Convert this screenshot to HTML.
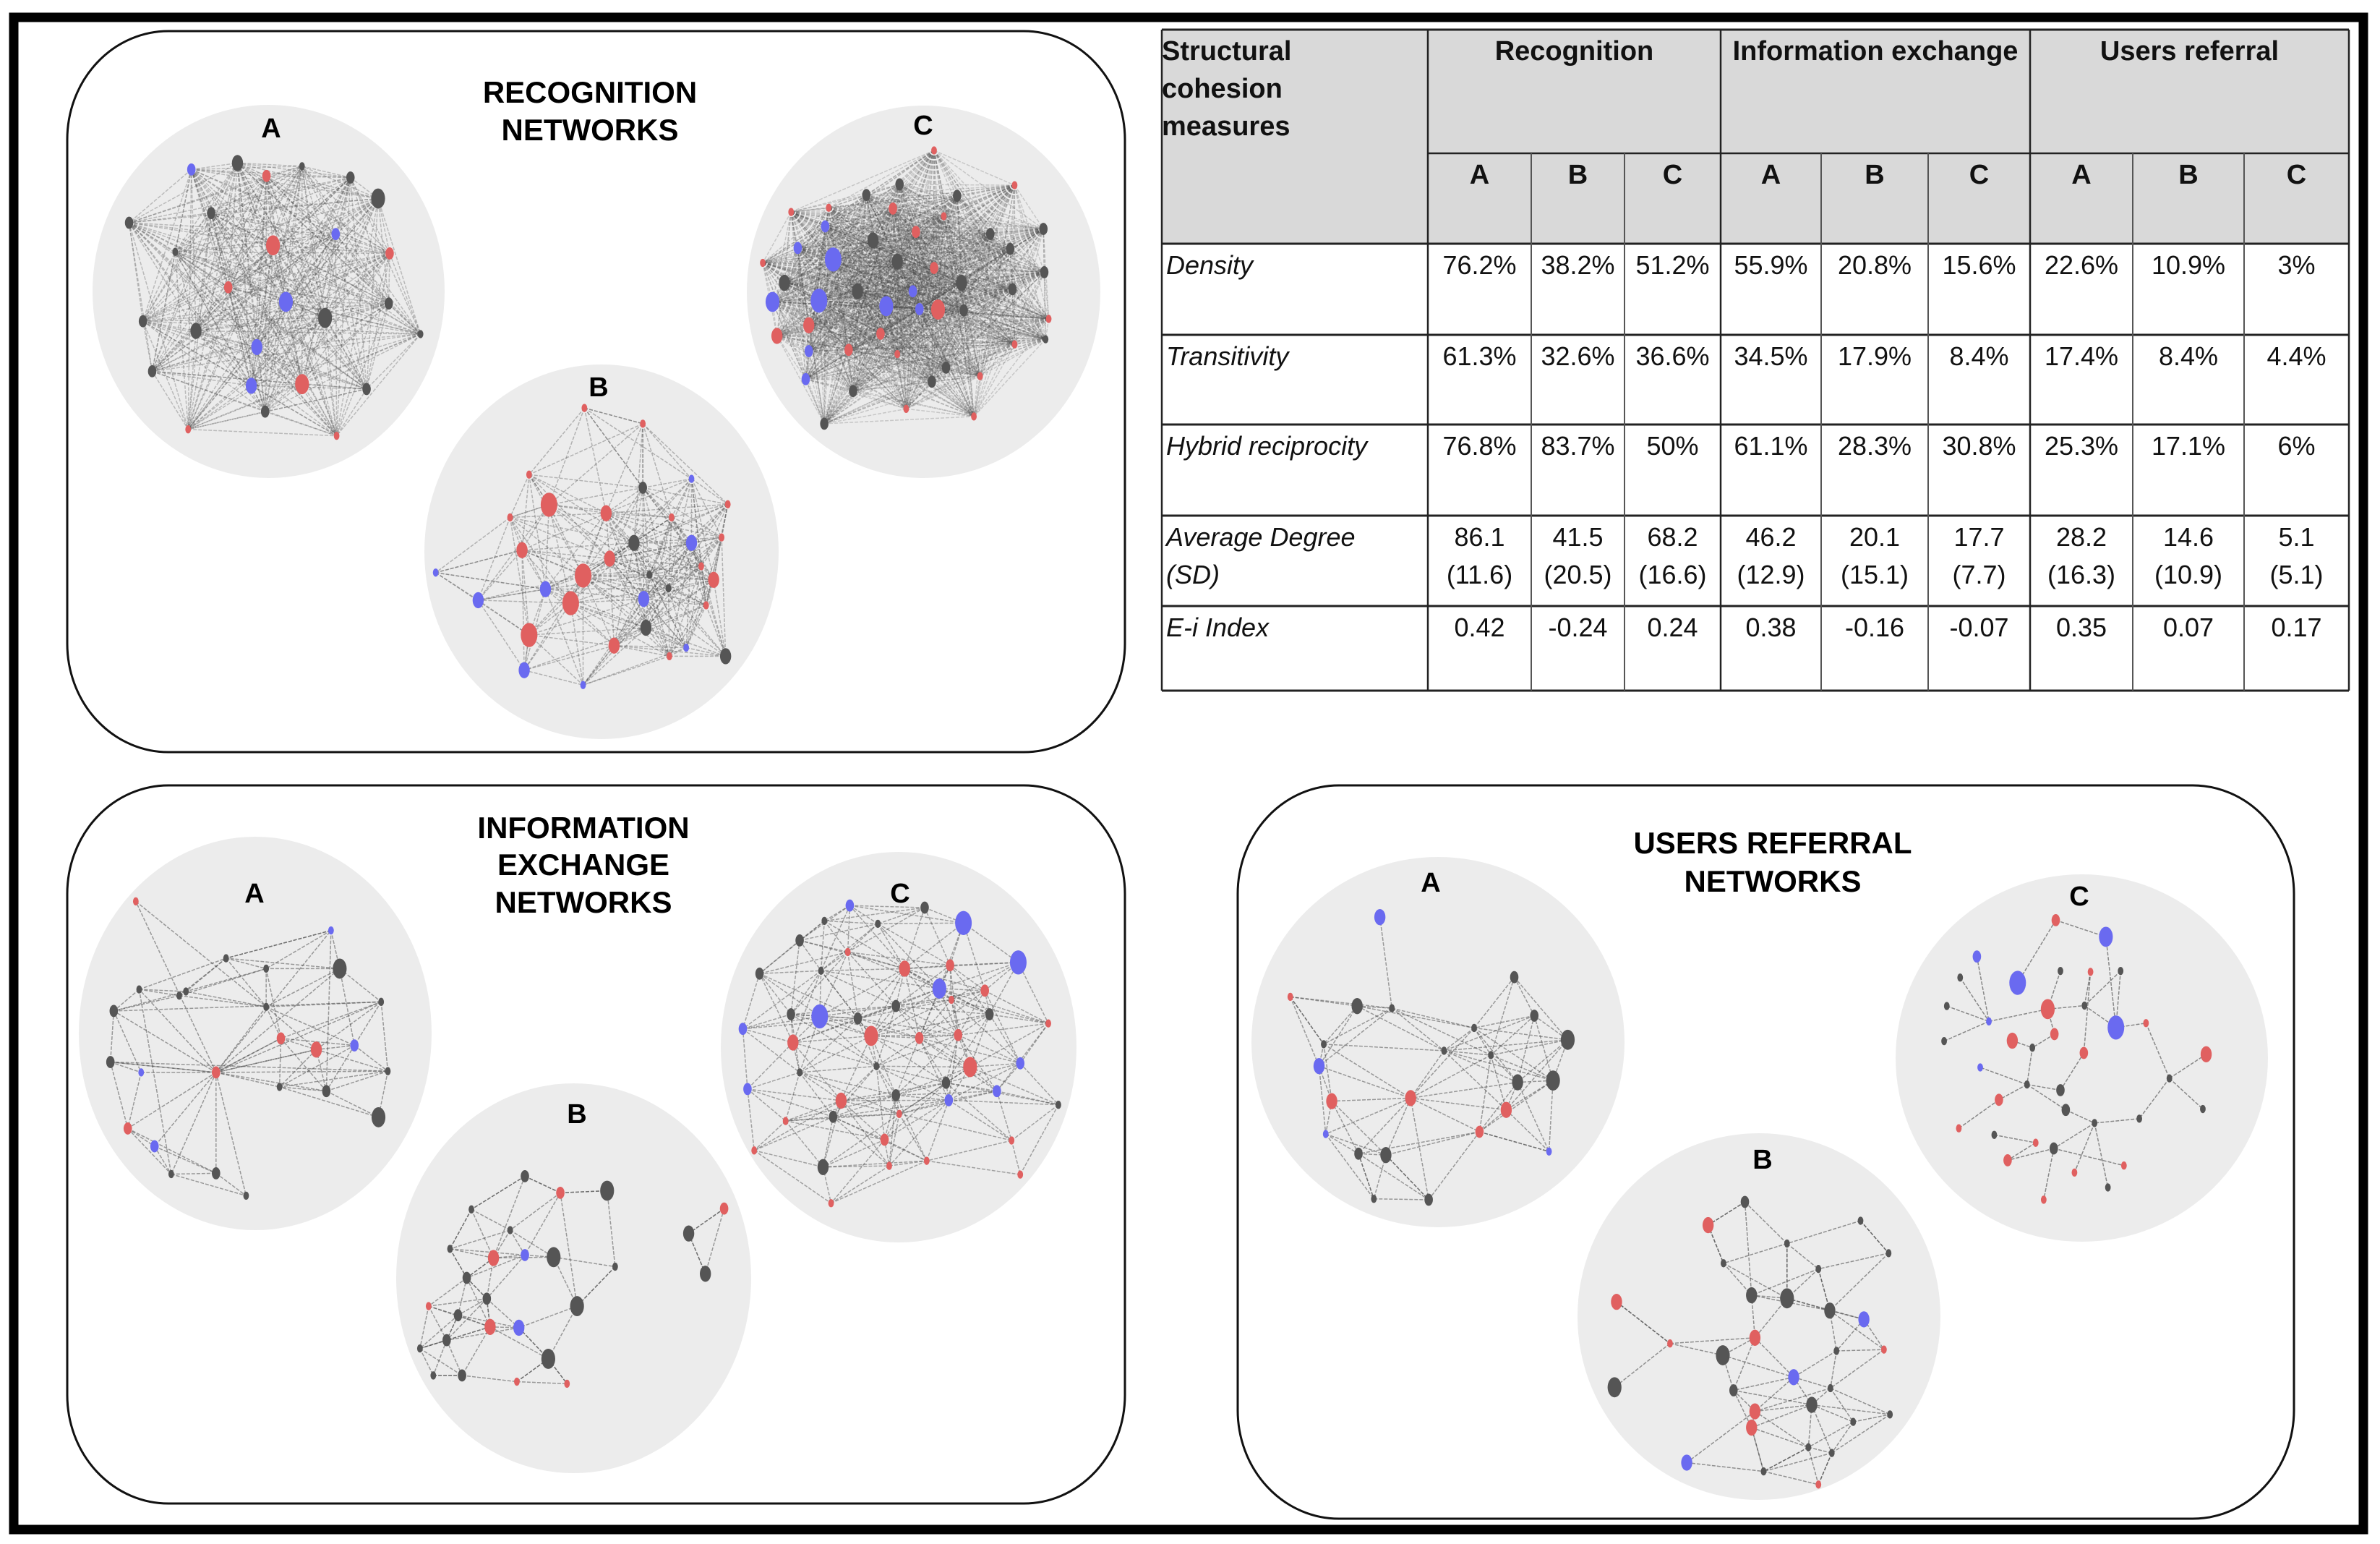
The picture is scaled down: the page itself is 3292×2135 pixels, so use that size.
<!DOCTYPE html>
<html><head><meta charset="utf-8">
<style>
html,body{margin:0;padding:0;background:#fff;}
#root{position:relative;width:3292px;height:2135px;overflow:hidden;font-family:"Liberation Sans",Arial,sans-serif;}
svg{position:absolute;left:0;top:0;}
#grid{z-index:5;pointer-events:none;}
.cell{position:absolute;box-sizing:border-box;font-size:36px;line-height:52px;color:#111;padding-top:4px;}
.hd{background:#d9d9d9;font-weight:bold;font-size:38px;}
.it{font-style:italic;padding-left:6px;}
.c{text-align:center;}
</style></head>
<body>
<div id="root">
<svg id="svg" width="3292" height="2135">
  <rect x="19" y="24" width="3250" height="2091" fill="none" stroke="#000" stroke-width="13"/>
  <rect x="93" y="43" width="1463" height="997" rx="140" ry="150" fill="none" stroke="#111" stroke-width="3"/>
  <rect x="93" y="1086" width="1463" height="993" rx="140" ry="150" fill="none" stroke="#111" stroke-width="3"/>
  <rect x="1712" y="1086" width="1461" height="1014" rx="140" ry="150" fill="none" stroke="#111" stroke-width="3"/>
  <g font-family="Liberation Sans, Arial, sans-serif" font-weight="bold" font-size="42" text-anchor="middle" fill="#000">
    <text x="816" y="142">RECOGNITION</text>
    <text x="816" y="194">NETWORKS</text>
    <text x="807" y="1159">INFORMATION</text>
    <text x="807" y="1210">EXCHANGE</text>
    <text x="807" y="1262">NETWORKS</text>
    <text x="2452" y="1180">USERS REFERRAL</text>
    <text x="2452" y="1233">NETWORKS</text>
  </g>
  <g id="nets"></g>
</svg>
<div id="table"></div>
<svg id="grid" width="3292" height="2135"></svg>
</div>
<script>
// frames: zoom-reference layout coordinate systems
const frames = {
  z2:{ox:0,oy:0,sx:0.6378,sy:0.4464},
  z3:{ox:580,oy:130,sx:0.6122,sy:0.5867},
  z4:{ox:100,oy:1150,sx:0.9247,sy:0.574},
  z5:{ox:1720,oy:1150,sx:0.9247,sy:0.6059}
};
const colors = {r:'#e06060',b:'#6a6af0',g:'#555555'};

// node data [x, y, size, group]
const recA = [[415,525,2,'b'],[515,505,3,'g'],[578,545,2,'r'],[760,550,2,'g'],[820,615,4,'g'],[458,660,2,'g'],[280,690,2,'g'],[728,725,2,'b'],[592,760,4,'r'],[845,785,2,'r'],[495,890,2,'r'],[620,935,4,'b'],[843,940,2,'g'],[705,985,4,'g'],[310,995,2,'g'],[425,1025,3,'g'],[912,1035,1,'g'],[557,1075,3,'b'],[330,1150,2,'g'],[545,1195,3,'b'],[655,1190,4,'r'],[795,1205,2,'g'],[575,1275,2,'g'],[408,1330,1,'r'],[730,1350,1,'r'],[380,780,1,'g'],[655,515,1,'g']];
const recB = [[373,740,1,'r'],[505,777,1,'r'],[248,897,1,'r'],[615,907,1,'b'],[505,928,2,'g'],[293,968,5,'r'],[422,988,3,'r'],[697,967,1,'r'],[205,998,1,'r'],[570,998,1,'r'],[485,1058,3,'g'],[615,1058,3,'b'],[683,1045,1,'r'],[232,1075,3,'r'],[430,1095,3,'r'],[37,1128,1,'b'],[370,1135,5,'r'],[520,1133,1,'g'],[665,1145,3,'r'],[637,1113,1,'r'],[285,1167,3,'b'],[563,1165,1,'g'],[133,1193,3,'b'],[342,1200,5,'r'],[507,1190,3,'b'],[648,1205,1,'r'],[512,1258,3,'g'],[248,1275,5,'r'],[440,1300,3,'r'],[565,1325,1,'r'],[603,1305,1,'b'],[692,1325,3,'g'],[237,1358,3,'b'],[370,1393,1,'b']];
const recC = [[1163,133,1,'r'],[1345,215,1,'r'],[1085,213,2,'g'],[1010,238,2,'g'],[1215,240,2,'g'],[840,278,1,'r'],[925,268,1,'r'],[1070,270,2,'r'],[1185,288,1,'r'],[1410,318,2,'g'],[917,312,2,'b'],[1122,325,2,'r'],[1025,345,3,'g'],[1290,330,2,'g'],[855,363,2,'b'],[935,390,5,'b'],[1080,395,3,'g'],[1335,365,2,'g'],[776,398,1,'r'],[1163,410,2,'r'],[1412,420,2,'g'],[825,445,3,'g'],[990,465,3,'g'],[1115,465,2,'b'],[1225,445,3,'g'],[1340,460,2,'g'],[798,490,4,'b'],[903,487,5,'b'],[1055,500,4,'b'],[1130,507,2,'b'],[1172,508,4,'r'],[1230,510,2,'g'],[1422,530,1,'r'],[880,545,3,'r'],[808,570,3,'r'],[1042,565,2,'r'],[1415,578,1,'g'],[880,606,2,'b'],[970,603,2,'r'],[1080,613,1,'r'],[1345,590,1,'r'],[1190,645,2,'g'],[873,672,2,'b'],[1267,665,1,'r'],[1158,678,2,'g'],[980,700,2,'g'],[1100,742,1,'r'],[915,777,2,'g'],[1253,760,1,'r']];
const infoA = [[95,168,1,'r'],[387,238,1,'b'],[400,330,4,'g'],[100,380,1,'g'],[160,395,1,'g'],[230,305,1,'g'],[290,330,1,'g'],[462,410,1,'g'],[62,432,2,'g'],[290,422,1,'g'],[312,498,2,'r'],[365,525,3,'r'],[422,515,2,'b'],[57,555,2,'g'],[103,580,1,'b'],[215,580,2,'r'],[472,577,1,'g'],[380,625,2,'g'],[458,688,4,'g'],[83,715,2,'r'],[123,758,2,'b'],[148,825,1,'g'],[215,823,2,'g'],[260,877,1,'g'],[310,615,1,'g'],[170,385,1,'g']];
const infoB = [[677,830,2,'g'],[730,870,2,'r'],[800,865,4,'g'],[597,910,1,'g'],[655,960,1,'g'],[565,1005,1,'g'],[630,1027,3,'r'],[677,1020,2,'b'],[720,1025,4,'g'],[812,1048,1,'g'],[590,1075,2,'g'],[620,1125,2,'g'],[533,1143,1,'r'],[755,1143,4,'g'],[577,1165,2,'g'],[625,1193,3,'r'],[668,1195,3,'b'],[520,1245,1,'g'],[560,1225,2,'g'],[712,1270,4,'g'],[583,1310,2,'g'],[540,1310,1,'g'],[665,1325,1,'r'],[740,1330,1,'r'],[975,908,2,'r'],[922,968,3,'g'],[947,1065,3,'g']];
const infoC = [[1163,178,2,'b'],[1275,183,2,'g'],[1333,220,5,'b'],[1125,215,1,'g'],[1205,222,1,'g'],[1088,262,2,'g'],[1415,315,5,'b'],[1245,330,3,'r'],[1313,322,2,'r'],[1160,290,1,'r'],[1028,342,2,'g'],[1120,335,1,'g'],[1297,378,4,'b'],[1365,383,2,'r'],[1232,420,2,'g'],[1118,445,5,'b'],[1075,440,2,'g'],[1175,450,2,'g'],[1315,405,1,'r'],[1372,440,2,'g'],[1003,475,2,'b'],[1460,462,1,'r'],[1078,508,3,'r'],[1195,492,4,'r'],[1267,497,2,'r'],[1325,490,2,'r'],[1203,565,1,'g'],[1343,567,4,'r'],[1418,558,2,'b'],[1088,580,1,'g'],[1010,620,2,'b'],[1307,605,2,'g'],[1383,625,2,'b'],[1150,648,3,'r'],[1232,635,2,'g'],[1311,647,2,'b'],[1475,658,1,'g'],[1138,687,2,'g'],[1067,697,1,'r'],[1237,680,1,'r'],[1215,742,2,'r'],[1405,744,1,'r'],[1020,768,1,'r'],[1123,808,3,'g'],[1222,805,1,'r'],[1278,793,1,'r'],[1418,826,1,'r'],[1135,895,1,'r']];
const usersA = [[204,195,3,'b'],[405,332,2,'g'],[70,377,1,'r'],[170,398,3,'g'],[222,403,1,'g'],[435,420,2,'g'],[485,475,4,'g'],[345,448,1,'g'],[120,485,1,'g'],[113,535,3,'b'],[300,500,1,'g'],[370,510,1,'g'],[410,572,3,'g'],[463,568,4,'g'],[132,615,3,'r'],[250,608,3,'r'],[393,635,3,'r'],[123,690,1,'b'],[353,685,2,'r'],[172,735,2,'g'],[213,738,3,'g'],[457,730,1,'b'],[195,838,1,'g'],[277,840,2,'g']];
const usersB = [[750,845,2,'g'],[695,898,3,'r'],[923,888,1,'g'],[965,962,1,'g'],[813,940,1,'g'],[718,985,1,'g'],[860,998,1,'g'],[760,1058,3,'g'],[813,1065,4,'g'],[877,1093,3,'g'],[928,1113,3,'b'],[558,1073,3,'r'],[638,1168,1,'r'],[765,1155,3,'r'],[717,1195,4,'g'],[887,1185,1,'g'],[958,1182,1,'r'],[823,1245,3,'b'],[555,1268,4,'g'],[733,1275,2,'g'],[878,1270,1,'g'],[765,1323,3,'r'],[850,1308,3,'g'],[760,1360,3,'r'],[912,1347,1,'g'],[967,1330,1,'g'],[845,1405,1,'g'],[880,1418,1,'g'],[663,1440,3,'b'],[778,1460,1,'g'],[860,1490,1,'r']];
const usersC = [[1215,202,2,'r'],[1290,240,4,'b'],[1097,285,2,'b'],[1158,345,5,'b'],[1072,333,1,'g'],[1222,318,1,'g'],[1267,320,1,'r'],[1312,318,1,'g'],[1203,405,4,'r'],[1052,398,1,'g'],[1115,433,1,'b'],[1258,397,1,'g'],[1305,447,5,'b'],[1350,437,1,'r'],[1150,477,3,'r'],[1213,462,2,'r'],[1048,478,1,'g'],[1180,493,1,'g'],[1257,505,2,'r'],[1440,508,3,'r'],[1102,538,1,'b'],[1385,563,1,'g'],[1172,577,1,'g'],[1222,590,2,'g'],[1130,612,2,'r'],[1230,635,2,'g'],[1340,655,1,'g'],[1435,633,1,'g'],[1273,665,1,'g'],[1070,677,1,'r'],[1123,692,1,'g'],[1185,710,1,'r'],[1212,723,2,'g'],[1143,750,2,'r'],[1243,778,1,'r'],[1317,762,1,'r'],[1293,812,1,'g'],[1197,840,1,'r']];

// explicit extra edges
const infoAEdges = [[15,0],[15,1],[15,2],[15,3],[15,8],[15,13],[15,19],[15,20],[15,21],[15,22],[15,23],[15,10],[15,11],[15,16],[15,7],[0,9],[1,5],[1,17],[8,7],[13,16],[2,12],[3,21]];
const infoBEdges = [[0,1],[1,2],[0,3],[1,13],[2,9],[9,13],[13,19],[19,23],[19,22],[16,19],[24,25],[25,26],[24,26],[3,5],[0,6],[1,7],[6,10],[10,11],[11,15],[14,18],[17,18],[20,21],[5,10]];
const usersBEdges = [[0,1],[1,5],[0,7],[2,3],[3,9],[4,8],[11,12],[12,13],[12,18],[28,21],[6,9],[27,30],[29,23],[26,29]];
const usersCEdges = [[0,1],[0,3],[1,12],[12,13],[13,21],[21,19],[21,27],[21,26],[26,28],[2,10],[4,10],[9,10],[16,10],[10,8],[8,11],[8,15],[11,12],[7,12],[5,8],[6,18],[18,23],[23,22],[22,24],[24,29],[22,20],[22,25],[25,28],[28,32],[32,33],[32,35],[28,34],[28,36],[32,37],[30,31],[31,33],[14,17],[17,22],[15,17],[7,11],[6,11]];

const networks = [
  {name:'recognition-a', frame:'z2', nodes:recA, linkRadius:9999, extra:[], op:0.3, circle:[128,615,145,661], label:'A', lx:375, ly:190},
  {name:'recognition-b', frame:'z3', nodes:recB, linkRadius:300, extra:[[0,1],[0,4],[1,4],[2,5],[8,5],[15,13],[15,20],[22,20],[32,27],[33,28]], op:0.35, circle:[587,1077,504,1022], label:'B', lx:828, ly:548},
  {name:'recognition-c', frame:'z3', nodes:recC, linkRadius:9999, extra:[], op:0.22, circle:[1033,1522,146,661], label:'C', lx:1277, ly:186},
  {name:'info-a', frame:'z4', nodes:infoA, linkRadius:175, extra:infoAEdges, op:0.5, circle:[109,597,1157,1701], label:'A', lx:352, ly:1248},
  {name:'info-b', frame:'z4', nodes:infoB, linkRadius:125, extra:infoBEdges, op:0.5, circle:[548,1039,1498,2037], label:'B', lx:798, ly:1553},
  {name:'info-c', frame:'z4', nodes:infoC, linkRadius:185, extra:[], op:0.45, circle:[997,1489,1178,1718], label:'C', lx:1245, ly:1248},
  {name:'users-a', frame:'z5', nodes:usersA, linkRadius:190, extra:[[0,4],[2,8],[19,22],[20,23],[15,23],[18,21]], op:0.5, circle:[1731,2247,1185,1697], label:'A', lx:1979, ly:1233},
  {name:'users-b', frame:'z5', nodes:usersB, linkRadius:125, extra:usersBEdges, op:0.55, circle:[2182,2684,1567,2074], label:'B', lx:2438, ly:1616},
  {name:'users-c', frame:'z5', nodes:usersC, linkRadius:0, extra:usersCEdges, op:0.6, circle:[2622,3137,1209,1717], label:'C', lx:2876, ly:1252}
];

const NS='http://www.w3.org/2000/svg';
const nets=document.getElementById('nets');
function px(f,x){return frames[f].ox+x*frames[f].sx;}
function py(f,y){return frames[f].oy+y*frames[f].sy;}

networks.forEach(net=>{
  const g=document.createElementNS(NS,'g');
  
  
  nets.appendChild(g);
  const [x0,x1,y0,y1]=net.circle;
  const el=document.createElementNS(NS,'ellipse');
  el.setAttribute('cx',(x0+x1)/2);el.setAttribute('cy',(y0+y1)/2);
  el.setAttribute('rx',(x1-x0)/2);el.setAttribute('ry',(y1-y0)/2);
  el.setAttribute('fill','#ececec');
  
  
  g.appendChild(el);
  const lab=document.createElementNS(NS,'text');
  lab.setAttribute('x',net.lx);lab.setAttribute('y',net.ly);
  lab.setAttribute('text-anchor','middle');lab.setAttribute('font-size','38');
  lab.setAttribute('font-weight','bold');lab.setAttribute('font-family','Liberation Sans, Arial, sans-serif');
  lab.textContent=net.label;
  
  
  g.appendChild(lab);
  const f=net.frame, N=net.nodes;
  const edges=[];
  for(let i=0;i<N.length;i++)for(let j=i+1;j<N.length;j++){
    const d=Math.hypot(N[i][0]-N[j][0],N[i][1]-N[j][1]);
    if(d<=net.linkRadius)edges.push([i,j]);
  }
  net.extra.forEach(e=>edges.push(e));
  const eg=document.createElementNS(NS,'g');
  eg.setAttribute('stroke','#444');eg.setAttribute('stroke-width','1.5');
  eg.setAttribute('stroke-opacity',net.op);eg.setAttribute('stroke-dasharray','5 2');
  g.appendChild(eg);
  edges.forEach(([a,b])=>{
    const l=document.createElementNS(NS,'line');
    l.setAttribute('x1',px(f,N[a][0]));l.setAttribute('y1',py(f,N[a][1]));
    l.setAttribute('x2',px(f,N[b][0]));l.setAttribute('y2',py(f,N[b][1]));
    
    
    eg.appendChild(l);
  });
  N.forEach(n=>{
    const c=document.createElementNS(NS,'ellipse');
    const r=n[2]*1.9+2;
    c.setAttribute('cx',px(f,n[0]));c.setAttribute('cy',py(f,n[1]));
    c.setAttribute('rx',r);c.setAttribute('ry',r*1.45);
    c.setAttribute('fill',colors[n[3]]);
    
    
    g.appendChild(c);
  });
});

// table data
const colX=[1607,1975,2118,2247,2380,2519,2667,2808,2950,3104,3249];
const rowY=[41,212,337,463,587,713,838,955];
const groups=['Recognition','Information exchange','Users referral'];
const subs=['A','B','C','A','B','C','A','B','C'];
const measures=['Density','Transitivity','Hybrid reciprocity','Average Degree<br>(SD)','E-i Index'];
const values=[
 ['76.2%','38.2%','51.2%','55.9%','20.8%','15.6%','22.6%','10.9%','3%'],
 ['61.3%','32.6%','36.6%','34.5%','17.9%','8.4%','17.4%','8.4%','4.4%'],
 ['76.8%','83.7%','50%','61.1%','28.3%','30.8%','25.3%','17.1%','6%'],
 ['86.1<br>(11.6)','41.5<br>(20.5)','68.2<br>(16.6)','46.2<br>(12.9)','20.1<br>(15.1)','17.7<br>(7.7)','28.2<br>(16.3)','14.6<br>(10.9)','5.1<br>(5.1)'],
 ['0.42','-0.24','0.24','0.38','-0.16','-0.07','0.35','0.07','0.17']
];
const tb=document.getElementById('table');
function cell(x0,y0,x1,y1,html,cls,name){
  const d=document.createElement('div');
  d.className='cell '+cls;
  d.style.left=x0+'px';d.style.top=y0+'px';
  d.style.width=(x1-x0)+'px';d.style.height=(y1-y0)+'px';
  d.innerHTML=html;
  
  
  tb.appendChild(d);
}
cell(colX[0],rowY[0],colX[1],rowY[2],'Structural<br>cohesion<br>measures','hd','header-measures');
groups.forEach((g,i)=>cell(colX[1+3*i],rowY[0],colX[4+3*i],rowY[1],g,'hd c','header-group'));
subs.forEach((s,i)=>cell(colX[1+i],rowY[1],colX[2+i],rowY[2],s,'hd c','header-sub'));
measures.forEach((m,r)=>{
  cell(colX[0],rowY[2+r],colX[1],rowY[3+r],m,'it','measure-label');
  values[r].forEach((v,i)=>cell(colX[1+i],rowY[2+r],colX[2+i],rowY[3+r],v,'c','table-value'));
});
// grid lines (overlay above table cells)
const gs=document.getElementById('grid');
function ln(x1,y1,x2,y2,w,c){const l=document.createElementNS(NS,'line');l.setAttribute('x1',x1);l.setAttribute('y1',y1);l.setAttribute('x2',x2);l.setAttribute('y2',y2);l.setAttribute('stroke',c);l.setAttribute('stroke-width',w);gs.appendChild(l);}
rowY.forEach((y,i)=>{ if(i===1) ln(colX[1],y,colX[10],y,2.5,'#222'); else ln(colX[0],y,colX[10],y,3,'#222'); });
colX.forEach((x,i)=>{
  const major=(i===0||i===1||i===4||i===7||i===10);
  if(major) ln(x,rowY[0],x,rowY[7],2.5,'#222');
  else ln(x,rowY[1],x,rowY[7],2,'#555');
});
</script>
</body></html>
